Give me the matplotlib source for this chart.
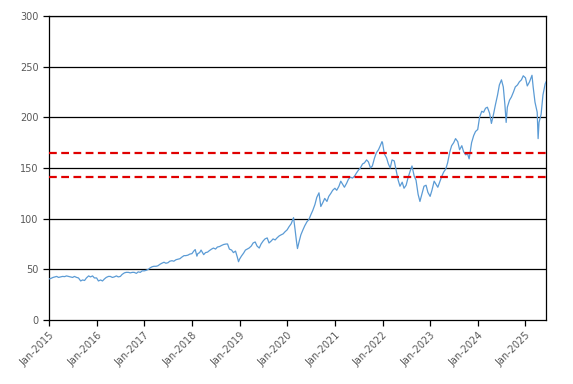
import numpy as np
import pandas as pd
import matplotlib
matplotlib.use("Agg")
import matplotlib.pyplot as plt
import matplotlib.dates as mdates

# price series (roughly half-monthly)
dates = [
    "2015-01-01", "2015-01-15", "2015-02-01", "2015-02-15", "2015-03-01", "2015-03-15",
    "2015-04-01", "2015-04-15", "2015-05-01", "2015-05-15", "2015-06-01", "2015-06-15",
    "2015-07-01", "2015-07-15", "2015-08-01", "2015-08-15", "2015-09-01", "2015-09-15",
    "2015-10-01", "2015-10-15", "2015-11-01", "2015-11-15", "2015-12-01", "2015-12-15",
    "2016-01-01", "2016-01-15", "2016-02-01", "2016-02-15", "2016-03-01", "2016-03-15",
    "2016-04-01", "2016-04-15", "2016-05-01", "2016-05-15", "2016-06-01", "2016-06-15",
    "2016-07-01", "2016-07-15", "2016-08-01", "2016-08-15", "2016-09-01", "2016-09-15",
    "2016-10-01", "2016-10-15", "2016-11-01", "2016-11-15", "2016-12-01", "2016-12-15",
    "2017-01-01", "2017-01-15", "2017-02-01", "2017-02-15", "2017-03-01", "2017-03-15",
    "2017-04-01", "2017-04-15", "2017-05-01", "2017-05-15", "2017-06-01", "2017-06-15",
    "2017-07-01", "2017-07-15", "2017-08-01", "2017-08-15", "2017-09-01", "2017-09-15",
    "2017-10-01", "2017-10-15", "2017-11-01", "2017-11-15", "2017-12-01", "2017-12-15",
    "2018-01-01", "2018-01-15", "2018-01-26", "2018-02-08", "2018-02-15", "2018-03-01",
    "2018-03-12", "2018-04-01", "2018-04-15", "2018-05-01", "2018-05-15", "2018-06-01",
    "2018-06-15", "2018-07-01", "2018-07-15", "2018-08-01", "2018-08-15", "2018-09-01",
    "2018-09-20", "2018-10-01", "2018-10-15", "2018-11-01", "2018-11-15", "2018-12-01",
    "2018-12-15", "2018-12-24",
    "2019-01-01", "2019-01-15", "2019-02-01", "2019-02-15", "2019-03-01", "2019-03-15",
    "2019-04-01", "2019-04-15", "2019-05-01", "2019-05-15", "2019-06-01", "2019-06-15",
    "2019-07-01", "2019-07-15", "2019-08-01", "2019-08-15", "2019-09-01", "2019-09-15",
    "2019-10-01", "2019-10-15", "2019-11-01", "2019-11-15", "2019-12-01", "2019-12-15",
    "2020-01-01", "2020-01-15", "2020-02-01", "2020-02-19", "2020-03-01", "2020-03-12",
    "2020-03-20", "2020-04-01", "2020-04-15", "2020-05-01", "2020-05-15", "2020-06-01",
    "2020-06-15", "2020-07-01", "2020-07-15", "2020-08-01", "2020-08-15", "2020-09-01",
    "2020-09-15", "2020-10-01", "2020-10-15", "2020-11-01", "2020-11-15", "2020-12-01",
    "2020-12-15",
    "2021-01-01", "2021-01-15", "2021-02-01", "2021-02-15", "2021-03-01", "2021-03-15",
    "2021-04-01", "2021-04-15", "2021-05-01", "2021-05-15", "2021-06-01", "2021-06-15",
    "2021-07-01", "2021-07-15", "2021-08-01", "2021-08-15", "2021-09-01", "2021-09-15",
    "2021-10-01", "2021-10-15", "2021-11-01", "2021-11-15", "2021-12-01", "2021-12-15",
    "2021-12-28",
    "2022-01-01", "2022-01-15", "2022-02-01", "2022-02-15", "2022-03-01", "2022-03-15",
    "2022-04-01", "2022-04-15", "2022-05-01", "2022-05-15", "2022-06-01", "2022-06-15",
    "2022-07-01", "2022-07-15", "2022-08-01", "2022-08-15", "2022-09-01", "2022-09-15",
    "2022-10-01", "2022-10-15", "2022-11-01", "2022-11-15", "2022-12-01", "2022-12-15",
    "2023-01-01", "2023-01-15", "2023-02-01", "2023-02-15", "2023-03-01", "2023-03-15",
    "2023-04-01", "2023-04-15", "2023-05-01", "2023-05-15", "2023-06-01", "2023-06-15",
    "2023-07-01", "2023-07-15", "2023-08-01", "2023-08-15", "2023-09-01", "2023-09-15",
    "2023-10-01", "2023-10-15", "2023-10-27", "2023-11-01", "2023-11-15", "2023-12-01",
    "2023-12-15",
    "2024-01-01", "2024-01-15", "2024-02-01", "2024-02-15", "2024-03-01", "2024-03-15",
    "2024-04-01", "2024-04-15", "2024-05-01", "2024-05-15", "2024-06-01", "2024-06-15",
    "2024-07-01", "2024-07-15", "2024-07-27", "2024-08-06", "2024-08-15", "2024-09-01",
    "2024-09-15", "2024-10-01", "2024-10-15", "2024-11-01", "2024-11-15", "2024-12-01",
    "2024-12-15",
    "2025-01-01", "2025-01-15", "2025-02-01", "2025-02-20", "2025-03-01", "2025-03-15",
    "2025-04-01", "2025-04-08", "2025-04-15", "2025-05-01", "2025-05-15", "2025-06-01",
    "2025-06-08",
]
prices = [
    40.5, 41.0, 42.0, 42.5, 43.0, 42.0, 42.5, 43.0, 42.8, 43.5, 43.0, 42.5,
    42.0, 43.0, 42.0, 41.5, 38.5, 39.5, 39.0, 41.5, 43.5, 42.5, 43.5, 41.5,
    41.5, 38.5, 39.5, 38.5, 40.5, 42.0, 43.0, 43.0, 42.0, 42.5, 43.5, 42.5,
    43.0, 45.0, 46.5, 47.0, 47.0, 46.5, 47.0, 47.0, 46.0, 47.5, 47.0, 48.5,
    48.5, 49.0, 50.0, 51.5, 52.5, 53.0, 53.0, 53.5, 55.0, 56.0, 57.0, 56.0,
    56.5, 58.0, 58.5, 58.0, 59.5, 60.0, 60.5, 62.0, 63.5, 63.5, 64.0, 65.0,
    65.5, 68.0, 69.5, 63.0, 65.5, 66.5, 69.0, 64.5, 66.5, 67.0, 68.5, 70.0,
    71.0, 70.0, 72.0, 72.5, 73.5, 74.5, 75.0, 75.0, 70.0, 69.0, 66.5, 68.0,
    62.0, 57.5,
    60.0, 63.0, 66.0, 69.0, 70.0, 71.0, 73.0, 76.0, 77.0, 73.0, 71.0, 75.0,
    78.0, 80.0, 81.0, 76.0, 78.0, 80.0, 79.0, 81.0, 83.0, 84.0, 85.0, 87.0,
    89.0, 92.0, 95.0, 101.0, 90.0, 78.0, 70.5, 77.0, 84.0, 89.0, 93.0, 97.0,
    99.0, 104.0, 108.0, 114.0, 121.0, 125.5, 112.0, 116.0, 120.0, 117.0, 122.0, 125.0,
    128.0,
    130.0, 128.0, 132.0, 137.0, 134.0, 131.0, 135.0, 139.0, 141.0, 140.0, 142.0, 145.0,
    148.0, 150.0, 154.0, 155.0, 158.0, 156.0, 150.0, 152.0, 160.0, 165.0, 168.0, 172.0,
    176.0,
    175.0, 164.0, 160.0, 154.0, 150.0, 158.0, 157.0, 148.0, 138.0, 132.0, 136.0, 130.0,
    133.0, 140.0, 147.0, 152.0, 142.0, 138.0, 124.0, 117.0, 125.0, 132.0, 133.0, 126.0,
    122.0, 128.0, 137.0, 134.0, 131.0, 136.0, 142.0, 146.0, 149.0, 155.0, 166.0, 172.0,
    175.0, 179.0, 176.0, 168.0, 172.0, 166.0, 163.0, 164.0, 159.0, 163.0, 175.0, 182.0,
    186.0,
    188.0, 200.0, 206.0, 205.0, 209.0, 210.0, 204.0, 194.0, 203.0, 212.0, 222.0, 232.0,
    237.0, 230.0, 213.0, 195.0, 210.0, 217.0, 220.0, 225.0, 230.0, 232.0, 235.0, 237.0,
    241.0,
    239.0, 231.0, 235.0, 241.5, 230.0, 215.0, 205.0, 179.0, 195.0, 203.0, 222.0, 233.0,
    235.0,
]
ref_levels = [165, 141.5]
yticks = [0, 50, 100, 150, 200, 250, 300]

x = pd.to_datetime(dates)

fig = plt.figure(figsize=(5.73, 3.84), dpi=100)
ax = fig.add_axes([0.0855, 0.1667, 0.8675, 0.7916])

for yv in yticks[1:]:
    ax.axhline(yv, color="black", lw=0.9, zorder=1)

ax.plot(x, prices, color="#5b9bd5", lw=0.9, zorder=3)

for lv in ref_levels:
    ax.axhline(lv, color="#e00000", lw=1.6, ls=(0, (3.5, 2)), zorder=4)

ax.set_ylim(0, 300)
ax.set_yticks(yticks)
ax.set_xlim(x[0], x[-1])
ax.xaxis.set_major_locator(mdates.YearLocator())
ax.xaxis.set_major_formatter(mdates.DateFormatter("%b-%Y"))

for s in ax.spines.values():
    s.set_color("black")
    s.set_linewidth(0.9)

ax.tick_params(axis="both", labelsize=7, labelcolor="#595959", color="black",
               length=4, width=0.9, direction="out")
plt.setp(ax.get_xticklabels(), rotation=45, ha="right", rotation_mode="anchor")

fig.savefig("out.png", dpi=100)
